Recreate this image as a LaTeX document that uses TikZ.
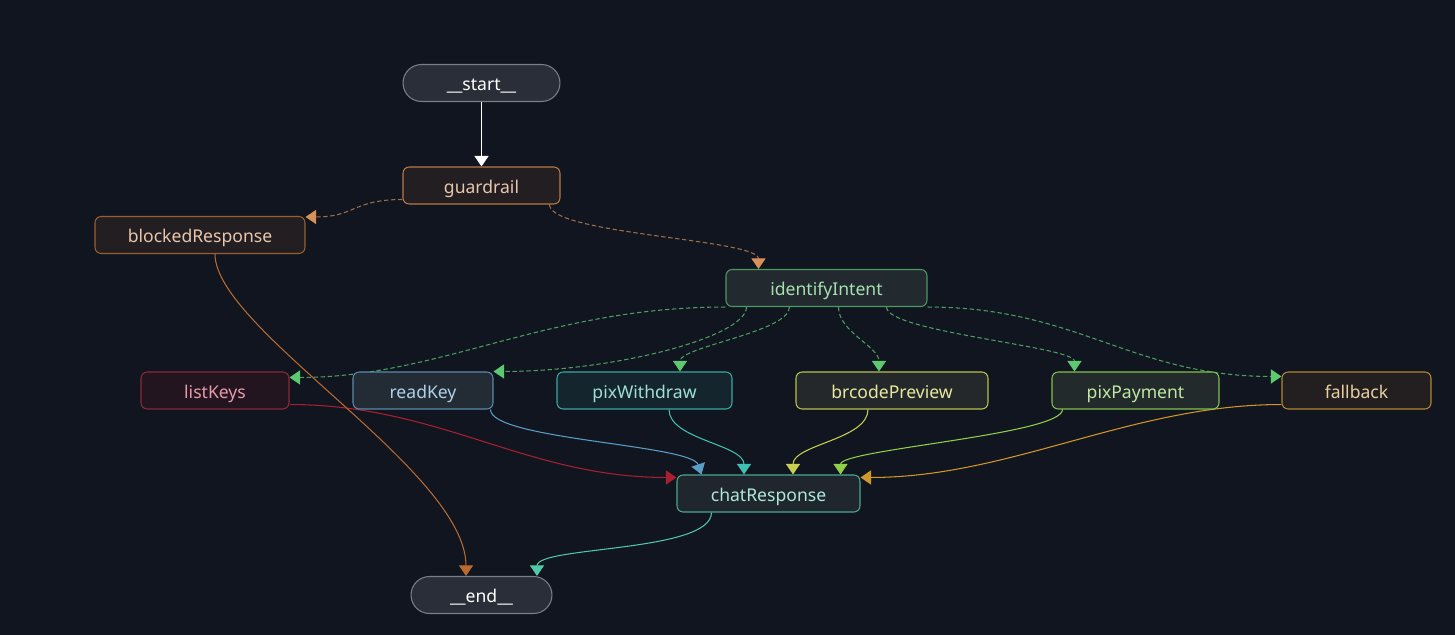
\documentclass[tikz,border=0pt]{standalone}
\usepackage{fontspec}
\setmainfont{Noto Sans}
\usepackage{xcolor}
\usetikzlibrary{arrows.meta, calc}

% colours
\definecolor{bg}{HTML}{11151F}
\definecolor{pillfill}{HTML}{2A2E38}
\definecolor{pillline}{HTML}{7A7E88}
\definecolor{guardfill}{HTML}{231E22}
\definecolor{guardline}{HTML}{B87A45}
\definecolor{guardtext}{HTML}{E8C6AA}
\definecolor{blockline}{HTML}{9A5F30}
\definecolor{intentfill}{HTML}{222A30}
\definecolor{intentline}{HTML}{4A9A60}
\definecolor{intenttext}{HTML}{A8E0B0}
\definecolor{listfill}{HTML}{22151F}
\definecolor{listline}{HTML}{8A2A35}
\definecolor{listtext}{HTML}{E89AA8}
\definecolor{readfill}{HTML}{232C35}
\definecolor{readline}{HTML}{5A8AA8}
\definecolor{readtext}{HTML}{B0D0E8}
\definecolor{withfill}{HTML}{14252E}
\definecolor{withline}{HTML}{3AA8A0}
\definecolor{withtext}{HTML}{A0E0D8}
\definecolor{brfill}{HTML}{24282A}
\definecolor{brline}{HTML}{B8C050}
\definecolor{brtext}{HTML}{E8E8A0}
\definecolor{payfill}{HTML}{222A2C}
\definecolor{payline}{HTML}{80C050}
\definecolor{paytext}{HTML}{C0E8A0}
\definecolor{fbfill}{HTML}{231F20}
\definecolor{fbline}{HTML}{B08830}
\definecolor{fbtext}{HTML}{E8D0A0}
\definecolor{chatfill}{HTML}{1F262E}
\definecolor{chatline}{HTML}{4AA890}
\definecolor{chattext}{HTML}{B0E8D8}
% connector colours
\definecolor{dashorange}{HTML}{A0704A}
\definecolor{tiporange}{HTML}{D8905A}
\definecolor{dashgreen}{HTML}{4AA060}
\definecolor{tipgreen}{HTML}{5CC870}
\definecolor{edgeblock}{HTML}{B86A30}
\definecolor{edgered}{HTML}{A82030}
\definecolor{edgeblue}{HTML}{5A9EC8}
\definecolor{edgeteal}{HTML}{40C0B0}
\definecolor{edgeyellow}{HTML}{C8D050}
\definecolor{edgegreen}{HTML}{90D048}
\definecolor{edgeorange}{HTML}{D09828}
\definecolor{edgechat}{HTML}{50C8A8}

\pgfdeclarelayer{background}
\pgfsetlayers{background,main}

\begin{document}
\begin{tikzpicture}[
  x=0.02cm, y=-0.02cm,
  font=\fontsize{10}{12}\selectfont,
  box/.style={draw, rounded corners=3.5pt, line width=0.6pt, minimum height=0.74cm, inner sep=0pt, text height=9.4pt, text depth=0.8pt},
  pill/.style={box, rounded corners=0.37cm, fill=pillfill, draw=pillline, text=white},
  flow/.style={-{Triangle[length=6pt, width=8pt, color=#1]}, line width=0.6pt, draw=#1},
  cond/.style 2 args={-{Triangle[length=6pt, width=8pt, color=#2]}, line width=0.6pt, draw=#1, dash pattern=on 2.5pt off 1.5pt}
]
% nodes of the graph
\node[pill, minimum width=3.14cm] (start) at (481.5,83) {\_\_start\_\_};
\node[box, fill=guardfill, draw=guardline, text=guardtext, minimum width=3.14cm] (guardrail) at (481.5,185.5) {guardrail};
\node[box, fill=guardfill, draw=blockline, text=guardtext, minimum width=4.2cm] (blocked) at (200,235) {blockedResponse};
\node[box, fill=intentfill, draw=intentline, text=intenttext, minimum width=4.02cm] (intent) at (826.5,288) {identifyIntent};

\node[box, fill=listfill, draw=listline, text=listtext, minimum width=2.96cm] (listKeys) at (215,390.5) {listKeys};
\node[box, fill=readfill, draw=readline, text=readtext, minimum width=2.8cm] (readKey) at (423,390.5) {readKey};
\node[box, fill=withfill, draw=withline, text=withtext, minimum width=3.5cm] (withdraw) at (644.5,390.5) {pixWithdraw};
\node[box, fill=brfill, draw=brline, text=brtext, minimum width=3.84cm] (brcode) at (892,390.5) {brcodePreview};
\node[box, fill=payfill, draw=payline, text=paytext, minimum width=3.34cm] (payment) at (1135.5,390.5) {pixPayment};
\node[box, fill=fbfill, draw=fbline, text=fbtext, minimum width=2.98cm] (fallback) at (1356.5,390.5) {fallback};

\node[box, fill=chatfill, draw=chatline, text=chattext, minimum width=3.66cm] (chat) at (768.5,493.5) {chatResponse};
\node[pill, minimum width=2.82cm] (finish) at (481.5,595) {\_\_end\_\_};

% connectors, behind the nodes
\begin{pgfonlayer}{background}
\fill[bg] (0,0) rectangle (1455,635);
\draw[flow=white] (start) -- (guardrail);
\draw[cond={dashorange}{tiporange}] ($(guardrail.west)+(0,14)$) .. controls +(-50,0) and +(50,0) .. ($(blocked.north east)+(0,1)$);
\draw[cond={dashorange}{tiporange}] ($(guardrail.south east)+(-11,0)$) .. controls +(0,30) and +(0,-30) .. ($(intent.north west)+(33,0)$);

% from identifyIntent
\draw[cond={dashgreen}{tipgreen}] (intent.south west) .. controls +(-180,0) and +(150,0) .. ($(listKeys.north east)+(0,6)$);
\draw[cond={dashgreen}{tipgreen}] ($(intent.south west)+(21,0)$) .. controls +(0,30) and +(120,0) .. (readKey.north east);
\draw[cond={dashgreen}{tipgreen}] ($(intent.south west)+(64,0)$) .. controls +(0,25) and +(0,-25) .. ($(withdraw.north)+(35.5,0)$);
\draw[cond={dashgreen}{tipgreen}] ($(intent.south west)+(113,0)$) .. controls +(0,25) and +(0,-25) .. ($(brcode.north)+(-13,0)$);
\draw[cond={dashgreen}{tipgreen}] ($(intent.south west)+(161,0)$) .. controls +(0,25) and +(0,-25) .. ($(payment.north west)+(23,0)$);
\draw[cond={dashgreen}{tipgreen}] (intent.south east) .. controls +(150,0) and +(-150,0) .. ($(fallback.north west)+(0,5)$);

% into chatResponse
\draw[flow=edgered] ($(listKeys.south east)+(0,-5)$) .. controls +(150,0) and +(-150,0) .. ($(chat.north west)+(0,3)$);
\draw[flow=edgeblue] ($(readKey.south east)+(-3,0)$) .. controls +(0,30) and +(-10,-30) .. ($(chat.north west)+(25,0)$);
\draw[flow=edgeteal] ($(withdraw.south)+(24.5,0)$) .. controls +(0,30) and +(0,-30) .. ($(chat.north)+(-24.5,0)$);
\draw[flow=edgeyellow] ($(brcode.south)+(-24,0)$) .. controls +(0,30) and +(0,-30) .. ($(chat.north)+(24.5,0)$);
\draw[flow=edgegreen] ($(payment.south west)+(11,0)$) .. controls +(0,25) and +(0,-25) .. ($(chat.north east)+(-20,0)$);
\draw[flow=edgeorange] ($(fallback.south west)+(0,-5)$) .. controls +(-150,0) and +(150,0) .. ($(chat.north east)+(0,3)$);

% to __end__
\draw[flow=edgeblock] ($(blocked.south)+(15,0)$) .. controls +(0,75) and +(0,-105) .. ($(finish.north)+(-15.5,0)$);
\draw[flow=edgechat] ($(chat.south west)+(35,0)$) .. controls +(0,40) and +(0,-30) .. ($(finish.north)+(55.5,0)$);
\end{pgfonlayer}
\end{tikzpicture}
\end{document}
